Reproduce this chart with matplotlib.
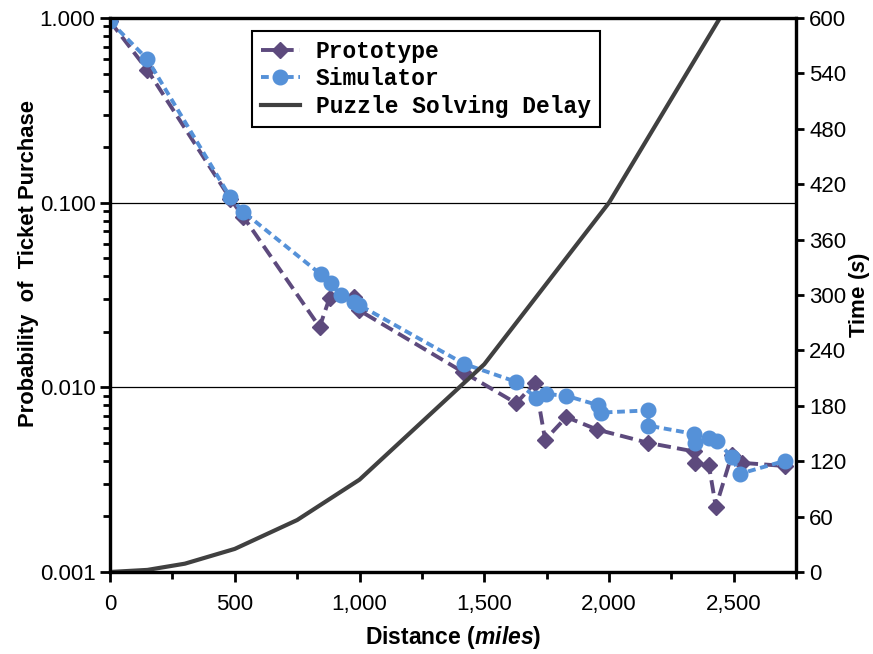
import numpy as np
import matplotlib
matplotlib.use("Agg")
import matplotlib.pyplot as plt
from matplotlib.ticker import FixedLocator, FuncFormatter, LogLocator, NullFormatter

plt.rcParams['font.family'] = 'Liberation Sans'
plt.rcParams['mathtext.fontset'] = 'custom'
plt.rcParams['mathtext.rm'] = 'Liberation Sans:bold'
plt.rcParams['mathtext.bfit'] = 'Liberation Sans:bold:italic'

# prototype measurements (distance in miles, probability)
proto_dist = [0, 150, 482, 535, 840, 880, 977, 997, 1415, 1628, 1704, 1744, 1829,
              1953, 2158, 2339, 2343, 2400, 2428, 2492, 2532, 2705]
proto_prob = [0.96, 0.523, 0.105, 0.0837, 0.0212, 0.0305, 0.031, 0.0262, 0.0121,
              0.0082, 0.0106, 0.0052, 0.0069, 0.0059, 0.0050, 0.0045, 0.0039,
              0.0038, 0.00225, 0.0043, 0.0039, 0.00375]

# simulator results
sim_dist = [0, 149, 482, 535, 844, 884, 924, 977, 997, 1419, 1628, 1708, 1748, 1829,
            1957, 1969, 2158, 2158, 2339, 2343, 2400, 2432, 2492, 2524, 2705]
sim_prob = [0.96, 0.60, 0.107, 0.089, 0.041, 0.0367, 0.0316, 0.029, 0.028, 0.0134,
            0.0107, 0.0088, 0.0092, 0.0090, 0.0080, 0.0073, 0.0075, 0.0062, 0.0056,
            0.0050, 0.0053, 0.0051, 0.0042, 0.0034, 0.0040]

# puzzle solving delay (seconds)
delay_dist = [0, 150, 300, 500, 750, 1000, 1500, 2000, 2500]
delay_time = [0, 2.25, 9, 25, 56.25, 100, 225, 400, 625]

purple = '#5d4a7d'
blue = '#5591d8'
grey = '#404040'

fig = plt.figure(figsize=(8.73, 6.54), dpi=100)
ax = fig.add_axes([0.126, 0.1254, 0.786, 0.8471])
ax2 = ax.twinx()

l1, = ax.plot(proto_dist, proto_prob, color=purple, lw=2.8, dashes=(3.4, 1.6),
              marker='D', ms=8.5, mec=purple, mfc=purple, zorder=3)
l2, = ax.plot(sim_dist, sim_prob, color=blue, lw=2.8, dashes=(2.0, 1.2),
              marker='o', ms=10.5, mec=blue, mfc=blue, zorder=4)
l3, = ax2.plot(delay_dist, delay_time, color=grey, lw=3)

ax.set_yscale('log')
ax.set_ylim(0.001, 1.0)
ax.set_xlim(0, 2750)
ax2.set_ylim(0, 600)

ax.xaxis.set_major_locator(FixedLocator([0, 500, 1000, 1500, 2000, 2500]))
ax.xaxis.set_minor_locator(FixedLocator(np.arange(250, 2751, 500)))
ax.xaxis.set_major_formatter(FuncFormatter(lambda v, p: f'{int(v):,}'))
ax.yaxis.set_major_formatter(FuncFormatter(lambda v, p: f'{v:.3f}'))
ax.yaxis.set_minor_locator(LogLocator(base=10, subs=np.arange(2, 10)))
ax.yaxis.set_minor_formatter(NullFormatter())
ax2.set_yticks(np.arange(0, 601, 60))

ax.yaxis.grid(True, which='major', color='black', lw=0.9)
ax.set_axisbelow(True)

for a in (ax, ax2):
    for s in a.spines.values():
        s.set_linewidth(2.3)
ax.tick_params(axis='both', which='major', labelsize=16, width=2, length=7, direction='out')
ax.tick_params(axis='y', which='minor', width=2, length=5, direction='out')
ax.tick_params(axis='x', which='minor', width=2, length=5, direction='out')
ax.tick_params(axis='x', which='major', pad=9)
ax2.tick_params(axis='y', labelsize=16, width=2, length=6, direction='out')

ax.set_xlabel(r'Distance ($\mathbfit{miles}$)', fontsize=16.5, fontweight='bold', labelpad=6)
ax.set_ylabel('Probability  of  Ticket Purchase', fontsize=15.8, fontweight='bold')
ax.yaxis.set_label_coords(-0.103, 0.556)
ax2.set_ylabel(r'Time ($\mathbfit{s}$)', fontsize=16, fontweight='bold', labelpad=0)

leg = ax2.legend([l1, l2, l3], ['Prototype', 'Simulator', 'Puzzle Solving Delay'],
                 loc='upper left', bbox_to_anchor=(0.19, 0.997), fancybox=False,
                 edgecolor='black', framealpha=1, handlelength=1.7, handletextpad=0.7,
                 prop={'family': 'Liberation Mono', 'weight': 'bold', 'size': 16.5},
                 borderpad=0.4, labelspacing=0.18)
leg.get_frame().set_linewidth(1.5)

fig.savefig('out.png', dpi=100)
